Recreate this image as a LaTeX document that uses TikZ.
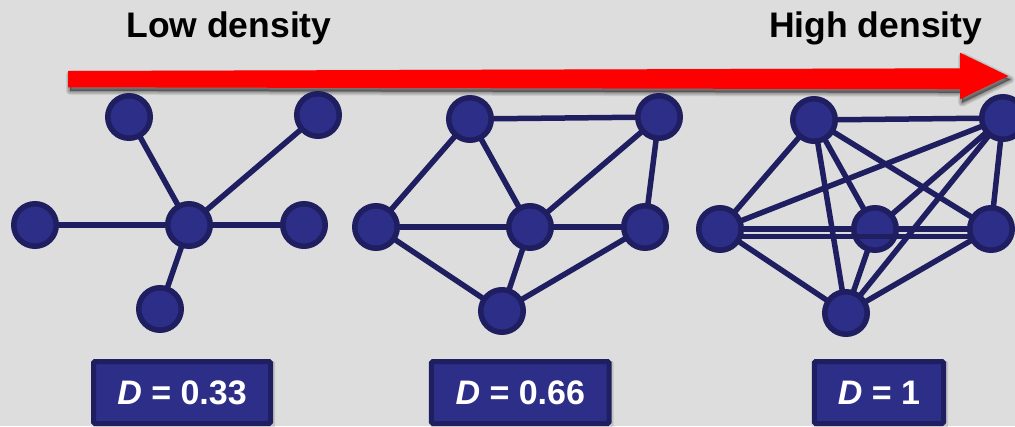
\documentclass[tikz,border=0pt]{standalone}
\usepackage{fontspec}
\setmainfont{Liberation Sans}

\definecolor{bg}{RGB}{221,221,221}
\definecolor{vfill}{RGB}{45,46,136}
\definecolor{vline}{RGB}{30,30,96}
\definecolor{arrowred}{RGB}{255,0,0}

\pgfdeclarelayer{edges}
\pgfdeclarelayer{canvas}
\pgfsetlayers{canvas,edges,main}

\begin{document}
\begin{tikzpicture}[x=1pt,y=-1pt,
  vertex/.style={circle, fill=vfill, draw=vline, line width=5.5pt,
    minimum size=42.5pt, inner sep=0pt},
  link/.style={draw=vline, line width=5.5pt},
  title/.style={font=\bfseries\fontsize{35.5}{40}\selectfont, text=black, anchor=base},
  dbox/.style={fill=vfill, draw=vline, line width=5pt, rounded corners=1.5pt,
    minimum height=62pt, inner sep=0pt, text=white,
    font=\bfseries\fontsize{34}{40}\selectfont},
  arrowshape/.style={insert path={(68,71) -- (960,68.3) -- (960,52.7) -- (1008.3,76)
    -- (960,99.3) -- (960,89.3) -- (68,87.3) -- cycle}},
  haze/.style={black, opacity=0.09, line join=round, line width=#1}
]
% canvas
\begin{pgfonlayer}{canvas}
\fill[bg] (0,0) rectangle (1015,426);
\end{pgfonlayer}
\useasboundingbox (0,0) rectangle (1015,426);

% headings
\node[title] (low)  at (229,37.3) {Low density};
\node[title] (high) at (875.7,37.3) {High density};

% soft shadow under the density arrow, then the arrow
\begin{scope}[shift={(2,3.5)}]
  \foreach \w in {8pt,6pt,4pt,2pt,0.5pt}
    \filldraw[haze=\w, arrowshape];
\end{scope}
\fill[arrowred, arrowshape];

% ---- star graph ----
\node[vertex] (a1) at (129,117) {};
\node[vertex] (a2) at (318,115) {};
\node[vertex] (a3) at (35,225) {};
\node[vertex] (a4) at (189,225) {};
\node[vertex] (a5) at (304,225) {};
\node[vertex] (a6) at (160,309) {};

% ---- medium graph ----
\node[vertex] (b1) at (470,119) {};
\node[vertex] (b2) at (659,117) {};
\node[vertex] (b3) at (376,227) {};
\node[vertex] (b4) at (530,227) {};
\node[vertex] (b5) at (645,227) {};
\node[vertex] (b6) at (502,311) {};

% ---- complete graph ----
\node[vertex] (c1) at (814,120) {};
\node[vertex] (c2) at (1003,118) {};
\node[vertex] (c3) at (720,229) {};
\node[vertex] (c4) at (875,229) {};
\node[vertex] (c5) at (991,229) {};
\node[vertex] (c6) at (846,313) {};

% edges, placed under the vertices
\begin{pgfonlayer}{edges}
  \foreach \u/\v in {a4/a1, a4/a2, a4/a3, a4/a5, a4/a6}
    \draw[link] (\u.center) -- (\v.center);
  \foreach \u/\v in {b1/b2, b1/b3, b1/b4, b2/b4, b2/b5,
                     b3/b4, b4/b5, b3/b6, b4/b6, b5/b6}
    \draw[link] (\u.center) -- (\v.center);
  \foreach \u/\v in {c1/c2, c1/c3, c1/c4, c1/c5, c1/c6,
                     c2/c3, c2/c4, c2/c5, c2/c6,
                     c3/c4, c3/c6, c4/c5, c4/c6, c5/c6}
    \draw[link] (\u.center) -- (\v.center);
\end{pgfonlayer}
% the long left-right edge runs just below the others, across the middle vertex
\draw[link, shorten <=20pt, shorten >=20pt]
  ([yshift=-7.5pt]c3.center) -- ([yshift=-7.5pt]c5.center);

% density values, each with a faint shadow
\foreach \n/\x/\w/\t in {d1/182/177/0.33, d2/520.3/177.7/0.66, d3/878.9/129.3/1} {
  \fill[black, opacity=0.12, rounded corners=2pt]
    (\x-\w/2-2.5+2, 392.5-33.5+2) rectangle (\x+\w/2+2.5+2, 392.5+33.5+2);
  \node[dbox, minimum width=\w pt] (\n) at (\x,392.5) {\textit{D} = \t};
}
\end{tikzpicture}
\end{document}
